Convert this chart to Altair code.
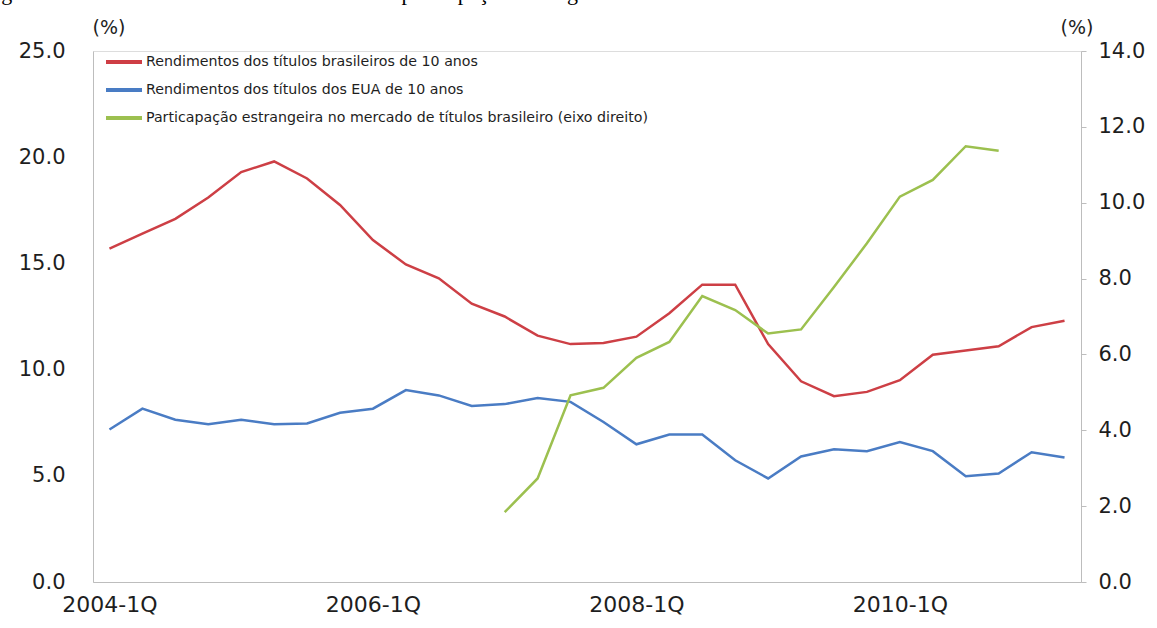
import altair as alt
import pandas as pd

# ---- data ----
quarters = [f"{y}-{q}Q" for y in range(2004, 2012) for q in range(1, 5)][:30]

series_names = [
    "Rendimentos dos títulos brasileiros de 10 anos",
    "Rendimentos dos títulos dos EUA de 10 anos",
    "Particapação estrangeira no mercado de títulos brasileiro (eixo direito)",
]
series_colors = ["#CD3F45", "#4A7CC4", "#9CC04F"]

br_yield = [15.7, 16.4, 17.1, 18.1, 19.3, 19.8, 19.0, 17.75, 16.1, 14.95,
            14.3, 13.1, 12.5, 11.6, 11.2, 11.25, 11.55, 12.65, 14.0, 14.0,
            11.2, 9.45, 8.75, 8.95, 9.5, 10.7, 10.9, 11.1, 12.0, 12.3]

us_yield = [4.02, 4.57, 4.28, 4.16, 4.28, 4.16, 4.18, 4.46, 4.57, 5.06,
            4.92, 4.64, 4.69, 4.85, 4.75, 4.22, 3.63, 3.89, 3.89, 3.21,
            2.73, 3.31, 3.50, 3.45, 3.69, 3.45, 2.79, 2.86, 3.42, 3.28]

foreign_share = [None] * 12 + [1.84, 2.73, 4.92, 5.12, 5.91, 6.33, 7.54, 7.17,
                               6.55, 6.66, 7.78, 8.93, 10.16, 10.6, 11.49, 11.37] + [None, None]

x_tick_labels = ["2004-1Q", "2006-1Q", "2008-1Q", "2010-1Q"]
left_ticks = [0, 5, 10, 15, 20, 25]
right_ticks = [0, 2, 4, 6, 8, 10, 12, 14]
title_text = "Figura 2: Rendimentos dos títulos de 10 anos e participação estrangeira"

rows = []
for i, q in enumerate(quarters):
    rows.append({"quarter": q, "series": series_names[0], "value": br_yield[i], "axis": "left"})
    rows.append({"quarter": q, "series": series_names[1], "value": us_yield[i], "axis": "right"})
    if foreign_share[i] is not None:
        rows.append({"quarter": q, "series": series_names[2], "value": foreign_share[i], "axis": "right"})
df = pd.DataFrame(rows)

FONT = "DejaVu Sans"
GRAY = "#BDBDBD"
TXT = "#1E1E1E"

color = alt.Color("series:N", scale=alt.Scale(domain=series_names, range=series_colors), legend=None)
xenc = alt.X("quarter:O", sort=quarters, title=None,
             axis=alt.Axis(values=x_tick_labels, labelAngle=0, ticks=False, labelPadding=12,
                           labelFontSize=22, domainColor=GRAY, labelColor=TXT, labelFont=FONT))

left = alt.Chart(df).transform_filter(alt.datum.axis == "left").mark_line(strokeWidth=2.5).encode(
    x=xenc,
    y=alt.Y("value:Q", scale=alt.Scale(domain=[0, 25], nice=False), title=None,
            axis=alt.Axis(values=left_ticks, format=".1f", orient="left", ticks=False, grid=False,
                          labelPadding=28, labelFontSize=21, labelFont=FONT, labelColor=TXT,
                          domainColor=GRAY)),
    color=color,
)

right = alt.Chart(df).transform_filter(alt.datum.axis == "right").mark_line(strokeWidth=2.5).encode(
    x=xenc,
    y=alt.Y("value:Q", scale=alt.Scale(domain=[0, 14], nice=False), title=None,
            axis=alt.Axis(values=right_ticks, format=".1f", orient="right", ticks=True, tickSize=5,
                          tickColor=GRAY, grid=False, labelPadding=12, labelFontSize=21,
                          labelFont=FONT, labelColor=TXT, domainColor=GRAY)),
    color=color,
    detail="series:N",
)

# manual legend
legend_layers = []
for k, (name, col) in enumerate(zip(series_names, series_colors)):
    yy = 11 + 28 * k
    legend_layers.append(
        alt.Chart(df).mark_rule(color=col, strokeWidth=2.4).encode(
            x=alt.value(13), x2=alt.value(49), y=alt.value(yy))
    )
    legend_layers.append(
        alt.Chart(pd.DataFrame({"t": [name]})).mark_text(
            align="left", baseline="middle", font=FONT, fontSize=14.2, color=TXT
        ).encode(text="t:N", x=alt.value(53), y=alt.value(yy))
    )

pct = pd.DataFrame({"t": ["(%)"]})
pct_left = alt.Chart(pct).mark_text(align="center", baseline="middle", font=FONT, fontSize=19,
                                    color=TXT).encode(text="t:N", x=alt.value(16), y=alt.value(-23))
pct_right = alt.Chart(pct).mark_text(align="center", baseline="middle", font=FONT, fontSize=19,
                                     color=TXT).encode(text="t:N", x=alt.value(984), y=alt.value(-23))

title_mark = alt.Chart(pd.DataFrame({"t": [title_text]})).mark_text(
    align="left", baseline="alphabetic", font="Liberation Serif", fontSize=22, color="#000000"
).encode(text="t:N", x=alt.value(-110), y=alt.value(-51.5))

chart = alt.layer(left, right, *legend_layers, pct_left, pct_right, title_mark).resolve_scale(
    y="independent"
).properties(
    width=988, height=531,
    autosize=alt.AutoSizeParams(type="none"),
    padding={"left": 93, "top": 51, "right": 76, "bottom": 46},
).configure_view(stroke=GRAY, strokeWidth=1).configure(background="white")

chart.save("out.html", embed_options={"renderer": "svg", "actions": False})
